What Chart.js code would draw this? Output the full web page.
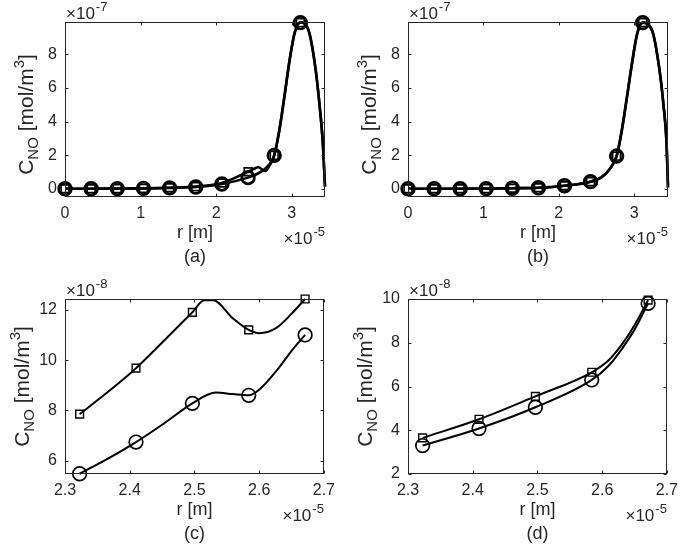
<!DOCTYPE html>
<html><head><meta charset="utf-8">
<script src="https://cdn.jsdelivr.net/npm/chart.js@4.4.1/dist/chart.umd.min.js"></script>
<style>
html,body{margin:0;padding:0;background:#fff;}
#wrap{position:relative;width:685px;height:551px;overflow:hidden;background:#fff}
canvas{position:absolute;}
</style></head><body>
<div id="wrap">
<canvas id="ca" width="342" height="274" style="left:0;top:0"></canvas>
<canvas id="cb" width="342" height="274" style="left:343px;top:0"></canvas>
<canvas id="cc" width="342" height="274" style="left:0;top:277px"></canvas>
<canvas id="cd" width="342" height="274" style="left:343px;top:277px"></canvas>
</div>
<script>
// ---------- DATA (r in 1e-5 m, C_NO in 1e-7 / 1e-8 mol/m^3) ----------
// Panels (a),(b): marker positions
const rCoarse   = [0, 0.346, 0.692, 1.038, 1.384, 1.730, 2.076, 2.422, 2.768, 3.114];
const aSquares  = [0.02, 0.02, 0.03, 0.04, 0.08, 0.15, 0.36, 1.03, 2.00, 9.88];
const aCircles  = [0.02, 0.02, 0.03, 0.04, 0.07, 0.12, 0.30, 0.68, 2.00, 9.88];
const bSquares  = [0.02, 0.02, 0.02, 0.03, 0.05, 0.08, 0.20, 0.44, 1.96, 9.88];
const bCircles  = [0.02, 0.02, 0.02, 0.03, 0.05, 0.08, 0.20, 0.44, 1.96, 9.88];
// Panels (a),(b): curves
const aSqCurveR = [0, 0.346, 0.692, 1.038, 1.384, 1.730, 2.076, 2.422, 2.50, 2.557, 2.646, 2.70, 2.768, 2.84, 2.90, 2.97, 3.04, 3.114, 3.22, 3.31, 3.37, 3.41, 3.44];
const aSqCurve  = [0.02, 0.02, 0.03, 0.04, 0.08, 0.15, 0.36, 1.03, 1.20, 1.30, 1.07, 1.35, 2.00, 3.60, 5.40, 7.60, 9.30, 9.90, 9.45, 7.30, 4.90, 2.80, 0.15];
const aCiCurveR = [0, 0.346, 0.692, 1.038, 1.384, 1.730, 2.076, 2.422, 2.52, 2.60, 2.68, 2.768, 2.84, 2.90, 2.97, 3.04, 3.114, 3.22, 3.31, 3.37, 3.41, 3.44];
const aCiCurve  = [0.02, 0.02, 0.03, 0.04, 0.07, 0.12, 0.30, 0.68, 0.85, 1.05, 1.35, 2.00, 3.60, 5.40, 7.60, 9.30, 9.90, 9.45, 7.30, 4.90, 2.80, 0.15];
const bCurveR   = [0, 0.346, 0.692, 1.038, 1.384, 1.730, 2.076, 2.422, 2.57, 2.68, 2.768, 2.83, 2.90, 2.97, 3.04, 3.114, 3.24, 3.33, 3.39, 3.43, 3.45];
const bCurve    = [0.02, 0.02, 0.02, 0.03, 0.05, 0.08, 0.20, 0.44, 0.71, 1.21, 1.96, 3.30, 5.30, 7.40, 9.20, 9.88, 9.40, 7.30, 5.00, 2.80, 0.10];
// Panels (c),(d): marker positions
const rFine     = [2.3226, 2.4097, 2.4968, 2.5839, 2.671];
const cSquares  = [7.85, 9.68, 11.90, 11.20, 12.43];
const cCircles  = [5.48, 6.74, 8.28, 8.60, 11.00];
const dSquares  = [3.65, 4.50, 5.55, 6.65, 9.95];
const dCircles  = [3.30, 4.08, 5.05, 6.30, 9.80];
// Panels (c),(d): curves
const cSqCurveR = [2.3226, 2.367, 2.4097, 2.454, 2.4968, 2.515, 2.529, 2.559, 2.5839, 2.600, 2.626, 2.651, 2.671];
const cSqCurve  = [7.85, 8.75, 9.68, 10.80, 11.90, 12.38, 12.38, 11.67, 11.20, 11.07, 11.27, 11.87, 12.43];
const cCiCurveR = [2.3226, 2.367, 2.4097, 2.454, 2.4968, 2.533, 2.559, 2.5839, 2.600, 2.626, 2.651, 2.671];
const cCiCurve  = [5.48, 6.09, 6.74, 7.50, 8.28, 8.71, 8.65, 8.60, 8.82, 9.55, 10.40, 11.00];
const dSqCurveR = [2.3226, 2.4097, 2.4968, 2.5839, 2.610, 2.630, 2.650, 2.671];
const dSqCurve  = [3.65, 4.50, 5.55, 6.65, 7.20, 7.90, 8.80, 9.95];
const dCiCurveR = [2.3226, 2.4097, 2.4968, 2.5839, 2.610, 2.630, 2.650, 2.671];
const dCiCurve  = [3.30, 4.08, 5.05, 6.30, 6.95, 7.70, 8.60, 9.80];
// Tick labels
const xTicksAB = [0, 1, 2, 3];
const xTickLabelsAB = ['0', '1', '2', '3'];
const yTicksAB = [0, 2, 4, 6, 8];
const yTickLabelsAB = ['0', '2', '4', '6', '8'];
const xTicksCD = [2.3, 2.4, 2.5, 2.6, 2.7];
const xTickLabelsCD = ['2.3', '2.4', '2.5', '2.6', '2.7'];
const yTicksC = [6, 8, 10, 12];
const yTickLabelsC = ['6', '8', '10', '12'];
const yTicksD = [2, 4, 6, 8, 10];
const yTickLabelsD = ['2', '4', '6', '8', '10'];

// ---------- RENDERING ----------
const FONT = '"Liberation Sans", Arial, Helvetica, sans-serif';
const TXT = '#262626';
const pts = (xs, ys) => xs.map((x, i) => ({x, y: ys[i]}));

const framePlugin = {
  id: 'frame',
  afterDraw(chart) {
    const o = chart.options.plugins.frame;
    const {ctx, chartArea: ca, scales: {x, y}} = chart;
    ctx.save();
    ctx.strokeStyle = TXT; ctx.lineWidth = 1;
    const L = Math.round(ca.left) + 0.5, R = Math.round(ca.right) - 0.5;
    const T = Math.round(ca.top) + 0.5, B = Math.round(ca.bottom) - 0.5;
    ctx.strokeRect(L, T, R - L, B - T);
    const tl = 3;
    ctx.beginPath();
    x.ticks.forEach(t => {
      const p = Math.round(x.getPixelForValue(t.value)) + 0.5;
      ctx.moveTo(p, B); ctx.lineTo(p, B - tl);
      ctx.moveTo(p, T); ctx.lineTo(p, T + tl);
    });
    y.ticks.forEach(t => {
      const p = Math.round(y.getPixelForValue(t.value)) + 0.5;
      ctx.moveTo(L, p); ctx.lineTo(L + tl, p);
      ctx.moveTo(R, p); ctx.lineTo(R - tl, p);
    });
    ctx.stroke();
    ctx.fillStyle = TXT;
    ctx.textBaseline = 'alphabetic';
    // exponent on y axis (top-left)
    ctx.textAlign = 'left';
    ctx.font = '17px ' + FONT;
    ctx.fillText('\u00d710', ca.left + 1, ca.top - 3);
    let w = ctx.measureText('\u00d710').width;
    ctx.font = '13px ' + FONT;
    ctx.fillText(o.yExp, ca.left + 1 + w + 1, ca.top - 11);
    // exponent on x axis (bottom-right)
    ctx.font = '13px ' + FONT;
    const ws = ctx.measureText(o.xExp).width;
    ctx.fillText(o.xExp, ca.right - ws, ca.bottom + 39);
    ctx.font = '17px ' + FONT;
    ctx.textAlign = 'right';
    ctx.fillText('\u00d710', ca.right - ws - 1, ca.bottom + 47);
    // y-axis label C_NO [mol/m^3]
    const parts = [
      {t: 'C', f: 21, dy: 0},
      {t: 'NO', f: 15, dy: 5},
      {t: ' [mol/m', f: 21, dy: 0},
      {t: '3', f: 15, dy: -9},
      {t: ']', f: 21, dy: 0}
    ];
    let tot = 0;
    parts.forEach(p => { ctx.font = p.f + 'px ' + FONT; p.w = ctx.measureText(p.t).width; tot += p.w; });
    ctx.translate(o.yLabelX, (ca.top + ca.bottom) / 2 + o.yLabelDy);
    ctx.rotate(-Math.PI / 2);
    ctx.textAlign = 'left';
    let cx = -tot / 2;
    parts.forEach(p => { ctx.font = p.f + 'px ' + FONT; ctx.fillText(p.t, cx, p.dy); cx += p.w; });
    ctx.restore();
  }
};

function curveDS(xs, ys, lw) {
  return {data: pts(xs, ys), showLine: true, pointRadius: 0, borderColor: '#000',
          borderWidth: lw, cubicInterpolationMode: 'monotone', fill: false, clip: false};
}
function markDS(xs, ys, style, r, lw) {
  return {data: pts(xs, ys), showLine: false, pointStyle: style, pointRadius: r,
          pointBorderWidth: lw, pointBorderColor: '#000', pointBackgroundColor: 'rgba(0,0,0,0)',
          borderColor: '#000', backgroundColor: 'rgba(0,0,0,0)', clip: false};
}

function makePanel(id, p) {
  new Chart(document.getElementById(id), {
    type: 'scatter',
    data: {datasets: p.datasets},
    options: {
      responsive: false, animation: false, devicePixelRatio: 1,
      events: [],
      layout: {padding: {left: 0, right: 17, top: 22, bottom: 0}},
      plugins: {legend: {display: false}, tooltip: {enabled: false},
                frame: {xExp: '-5', yExp: p.yExp, yLabelX: p.yLabelX, yLabelDy: p.yLabelDy}},
      scales: {
        x: {type: 'linear', min: p.xmin, max: p.xmax,
            afterBuildTicks: s => { s.ticks = p.xTicks.map(v => ({value: v})); },
            grid: {display: false, drawTicks: false}, border: {display: false},
            ticks: {font: {family: FONT, size: 16}, color: TXT, padding: 7, maxRotation: 0, autoSkip: false,
                    callback: (v, i) => p.xLabels[i]},
            title: {display: true, text: ['r [m]', p.tag], color: TXT,
                    font: {family: FONT, size: 18, lineHeight: 1.35}, padding: {top: 0, bottom: 5}},
            afterFit: s => { s.height = 77; }},
        y: {type: 'linear', min: p.ymin, max: p.ymax,
            afterBuildTicks: s => { s.ticks = p.yTicks.map(v => ({value: v})); },
            grid: {display: false, drawTicks: false}, border: {display: false},
            ticks: {font: {family: FONT, size: 16}, color: TXT, padding: 8, autoSkip: false,
                    callback: (v, i) => p.yLabels[i]},
            afterFit: s => { s.width = 65; }}
      }
    },
    plugins: [framePlugin]
  });
}

makePanel('ca', {
  tag: '(a)', yExp: '-7', yLabelX: 33, yLabelDy: 5, xmin: 0, xmax: 3.44, ymin: -0.47, ymax: 9.92,
  xTicks: xTicksAB, xLabels: xTickLabelsAB, yTicks: yTicksAB, yLabels: yTickLabelsAB,
  datasets: [curveDS(aSqCurveR, aSqCurve, 2.6), curveDS(aCiCurveR, aCiCurve, 2.6),
             markDS(rCoarse, aSquares, 'rect', 5.5, 1.6), markDS(rCoarse, aCircles, 'circle', 6.3, 2.8)]
});
makePanel('cb', {
  tag: '(b)', yExp: '-7', yLabelX: 33, yLabelDy: 5, xmin: 0, xmax: 3.45, ymin: -0.47, ymax: 9.92,
  xTicks: xTicksAB, xLabels: xTickLabelsAB, yTicks: yTicksAB, yLabels: yTickLabelsAB,
  datasets: [curveDS(bCurveR, bCurve, 2.6), curveDS(bCurveR, bCurve, 2.6),
             markDS(rCoarse, bSquares, 'rect', 5.5, 1.6), markDS(rCoarse, bCircles, 'circle', 6.3, 2.8)]
});
makePanel('cc', {
  tag: '(c)', yExp: '-8', yLabelX: 29, yLabelDy: 0, xmin: 2.3, xmax: 2.7, ymin: 5.47, ymax: 12.43,
  xTicks: xTicksCD, xLabels: xTickLabelsCD, yTicks: yTicksC, yLabels: yTickLabelsC,
  datasets: [curveDS(cSqCurveR, cSqCurve, 2.0), curveDS(cCiCurveR, cCiCurve, 2.0),
             markDS(rFine, cSquares, 'rect', 5.5, 1.4), markDS(rFine, cCircles, 'circle', 6.8, 1.7)]
});
makePanel('cd', {
  tag: '(d)', yExp: '-8', yLabelX: 29, yLabelDy: 0, xmin: 2.3, xmax: 2.7, ymin: 2, ymax: 10,
  xTicks: xTicksCD, xLabels: xTickLabelsCD, yTicks: yTicksD, yLabels: yTickLabelsD,
  datasets: [curveDS(dSqCurveR, dSqCurve, 2.0), curveDS(dCiCurveR, dCiCurve, 2.0),
             markDS(rFine, dSquares, 'rect', 5.5, 1.4), markDS(rFine, dCircles, 'circle', 6.8, 1.7)]
});
</script>
</body></html>
